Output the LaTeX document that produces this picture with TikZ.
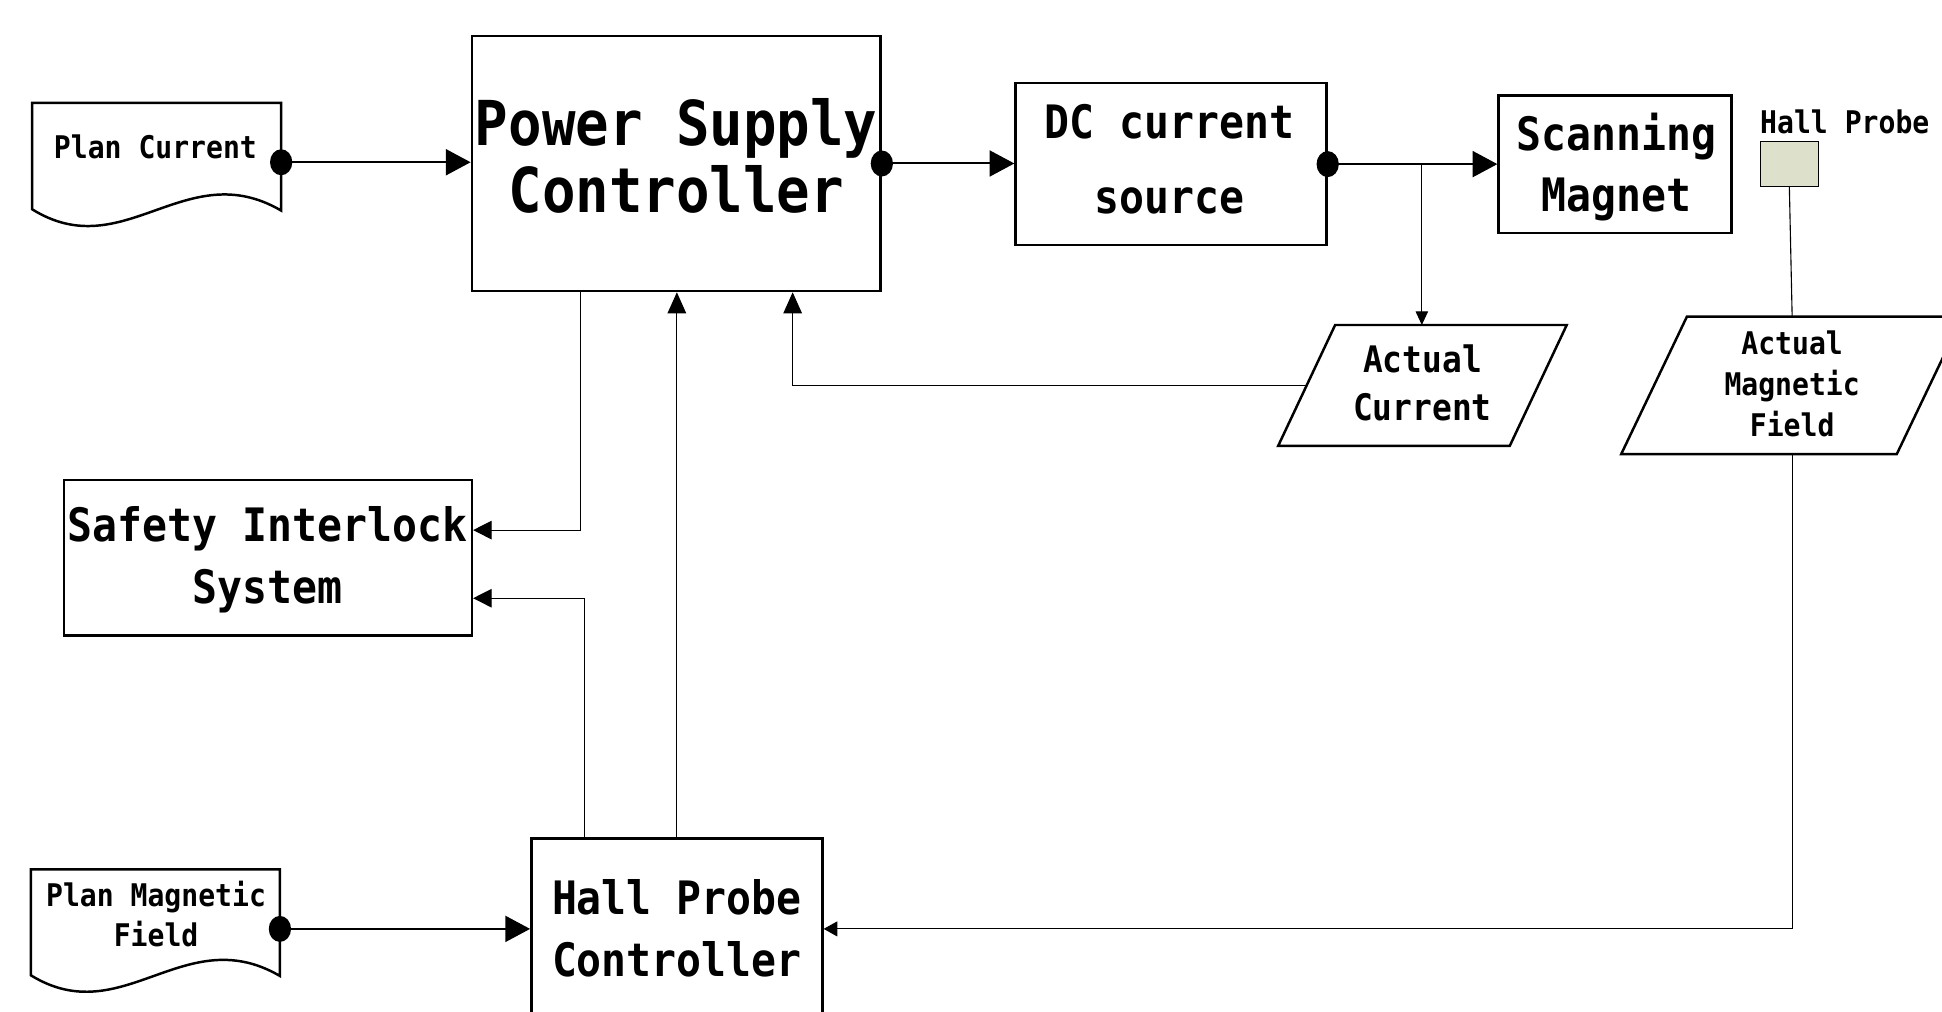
\documentclass[tikz,border=0pt]{standalone}
\usepackage{fontspec}
\usetikzlibrary{arrows.meta,shapes.geometric}
\newfontfamily\hei[FakeStretch=0.9]{DejaVu Sans Mono Bold}
\newcommand\myfL{\hei\fontsize{50}{54}\selectfont}
\newcommand\myfDC{\hei\fontsize{37.2}{60}\selectfont}
\newcommand\myfM{\hei\fontsize{37.2}{49.6}\selectfont}
\newcommand\myfAC{\hei\fontsize{29.5}{38.3}\selectfont}
\newcommand\myfS{\hei\fontsize{25.2}{33}\selectfont}
\tikzset{
  box/.style={draw, rectangle, line width=2pt, inner sep=0pt},
  txt/.style={align=center, inner sep=0pt},
  shapeline/.style={line width=2pt, line join=miter},
  thickline/.style={line width=1.6pt},
  thinline/.style={line width=0.9pt},
  dotnode/.style={ellipse, fill=black, draw=none, minimum width=18pt, minimum height=21pt, inner sep=0pt},
  bigarrow/.style={-{Triangle[length=20pt,width=21pt]}},
  midarrow/.style={-{Triangle[length=17pt,width=15pt]}},
  sisarrow/.style={-{Triangle[length=15pt,width=15pt]}},
  smallarrow/.style={-{Triangle[length=11pt,width=12pt]}},
  tinyarrow/.style={-{Triangle[length=11pt,width=10pt]}},
}
\begin{document}
\begin{tikzpicture}[x=1pt,y=-1pt]
\path[use as bounding box] (0,0) rectangle (1568,817);
\clip (0,0) rectangle (1568,817);
\fill[white] (0,0) rectangle (1568,817);

% document shapes
\draw[shapeline] (26,83) -- (227,83) -- (227,170) .. controls (150,125) and (100,215) .. (26,169) -- cycle;
\draw[shapeline] (25,702) -- (226,702) -- (226,788) .. controls (149,743) and (99,833) .. (25,787.5) -- cycle;
\node[txt, font=\myfS] (pctext) at (125.5,118.4) {Plan Current};
\node[txt, font=\myfS] (pmftext) at (126,738) {Plan Magnetic\\Field};

% boxes
\node[box, minimum width=330pt, minimum height=206pt] (psc) at (546,132) {};
\node[txt, font=\myfL] (psctext) at (546,126) {Power Supply\\Controller};
\node[box, minimum width=251pt, minimum height=131pt] (dc) at (945.5,132.5) {};
\node[txt, font=\myfDC] (dctext) at (944.5,128.5) {DC current\\source};
\node[box, minimum width=188pt, minimum height=111pt] (sm) at (1304,132.5) {};
\node[txt, font=\myfM] (smtext) at (1305,135) {Scanning\\Magnet};
\node[box, minimum width=329.5pt, minimum height=125.4pt] (sis) at (216.25,450.3) {};
\node[txt, font=\myfM] (sistext) at (216,452) {Safety Interlock\\System};
\node[box, minimum width=235pt, minimum height=146pt] (hpc) at (546.5,750) {};
\node[txt, font=\myfM] (hpctext) at (546.5,749.5) {Hall Probe\\Controller};

% hall probe sensor
\node[draw, line width=1pt, fill={rgb,255:red,221;green,225;blue,204}, minimum width=46.5pt, minimum height=36.3pt, inner sep=0pt] (probe) at (1444.75,132.5) {};
\node[txt, font=\myfS] (probelabel) at (1489.5,98.1) {Hall Probe};

% parallelograms
\draw[shapeline] (1078,262.4) -- (1265,262.4) -- (1219,360) -- (1032,360) -- cycle;
\node[txt, font=\myfAC] (actext) at (1148.5,309.3) {Actual\\Current};
\coordinate (actop) at (1148,262.4);
\coordinate (acleft) at (1055,311.4);
\draw[shapeline] (1362,255.7) -- (1584.5,255.7) -- (1531.5,366.6) -- (1309,366.6) -- cycle;
\node[txt, font=\myfS] (amftext) at (1447,309.8) {Actual\\Magnetic\\Field};
\coordinate (amftop) at (1447,255.7);
\coordinate (amfbot) at (1447,366.6);

% dots
\node[dotnode] (pcdot) at (227,131) {};
\node[dotnode] (pscdot) at (psc.east) {};
\node[dotnode] (dcdot) at (dc.east) {};
\node[dotnode] (pmfdot) at (226,750) {};
\coordinate (br) at (1148,132.5);

% connectors
\draw[thickline, bigarrow] (pcdot.center) -- (pcdot.center -| psc.west);
\draw[thickline, bigarrow] (pscdot.center) -- (pscdot.center -| dc.west);
\draw[thickline, bigarrow] (dcdot.center) -- (dcdot.center -| sm.west);
\draw[thickline, bigarrow] (pmfdot.center) -- (pmfdot.center -| hpc.west);
\draw[thinline, tinyarrow] (br) -- (actop);
\draw[thinline, midarrow] (acleft) -| ([xshift=94pt]psc.south);
\draw[thinline, sisarrow] ([xshift=-77pt]psc.south) |- ([yshift=22.3pt]sis.east);
\draw[thinline, sisarrow] ([xshift=-74.5pt]hpc.north) |- ([yshift=-32.7pt]sis.east);
\draw[thinline, midarrow] (hpc.north) -- (hpc.north |- psc.south);
\draw[thinline] (probe.south) -- (amftop);
\draw[thinline, smallarrow] (amfbot) |- (hpc.east);
\end{tikzpicture}
\end{document}
